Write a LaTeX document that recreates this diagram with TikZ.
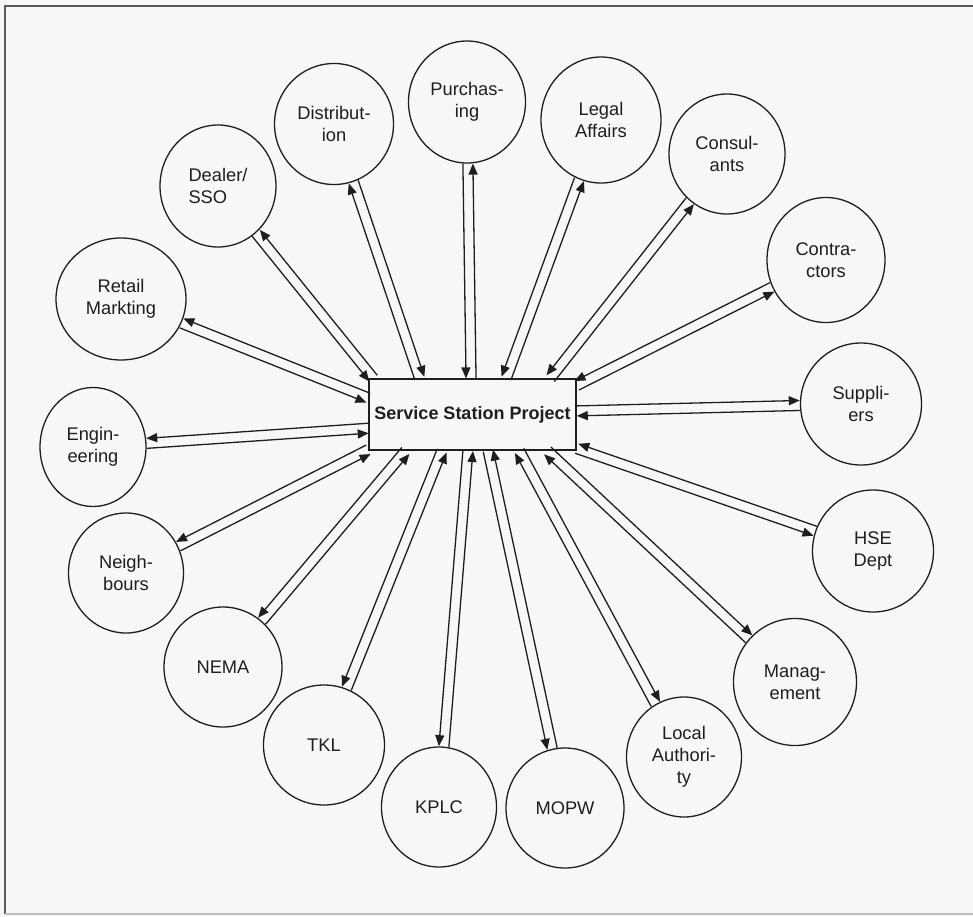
\documentclass[tikz,border=0pt]{standalone}
\usepackage{fontspec}
\setmainfont{Liberation Sans}
\usetikzlibrary{shapes.geometric,arrows.meta,calc}
\definecolor{paper}{RGB}{247,247,247}
\definecolor{ink}{RGB}{30,30,30}
\newcommand\gap{5pt}
% #1 circle, #2 point on hub, #3/#4 side angles (90/-90 default, -90/90 swapped)
\newcommand\linkpair[4]{%
  \path (#1) -- (#2) coordinate[pos=0] (cA) coordinate[pos=1] (cB);
  \draw[arr] ($(cB)!\gap!#4:(cA)$) -- ($(cA)!\gap!#3:(cB)$);
  \draw[arr] ($(cA)!\gap!#4:(cB)$) -- ($(cB)!\gap!#3:(cA)$);
}
\begin{document}
\begin{tikzpicture}[x=1pt,y=-1pt,
  stake/.style={ellipse,draw=ink,line width=1.3pt,inner sep=0pt,align=center,
    font=\fontsize{18.3}{22}\selectfont,text=ink},
  hub/.style={rectangle,draw=ink,line width=1.3pt,minimum width=207pt,
    minimum height=71pt,inner sep=0pt,font=\fontsize{18}{22}\selectfont\bfseries,text=ink},
  arr/.style={draw=ink,line width=1.3pt,-{Triangle[length=11pt,width=9pt]}}]

\useasboundingbox (0,0) rectangle (973,916);
\fill[paper] (0,0) rectangle (973,916);
\draw[black!65,line width=2pt] (973,6) -- (5,6) -- (5,914);
\draw[black!25,line width=1.5pt] (5,914) -- (973,914);

\node[hub] (ssp) at (472.5,414.5) {Service Station Project};

\node[stake,align=left,minimum width=116pt,minimum height=122pt] (dealer) at (218,186) {Dealer/\\SSO};
\node[stake,minimum width=119pt,minimum height=121pt] (distrib) at (334,124) {Distribut-\\ion};
\node[stake,minimum width=117pt,minimum height=122pt] (purch) at (467,102) {Purchas-\\ing};
\node[stake,minimum width=120pt,minimum height=126pt] (legal) at (601,120) {Legal\\Affairs};
\node[stake,minimum width=116pt,minimum height=120pt] (consult) at (727,154) {Consul-\\ants};
\node[stake,minimum width=118pt,minimum height=125pt] (contract) at (826,260) {Contra-\\ctors};
\node[stake,minimum width=121pt,minimum height=122pt] (suppl) at (861,404) {Suppli-\\ers};
\node[stake,minimum width=121pt,minimum height=122pt] (hse) at (873,551) {HSE\\Dept};
\node[stake,minimum width=123pt,minimum height=127pt] (manag) at (795,682) {Manag-\\ement};
\node[stake,minimum width=115pt,minimum height=120pt] (local) at (684,757) {Local\\Authori-\\ty};
\node[stake,minimum width=118pt,minimum height=120pt] (mopw) at (565,808) {MOPW};
\node[stake,minimum width=115pt,minimum height=120pt] (kplc) at (439,807) {KPLC};
\node[stake,minimum width=121pt,minimum height=120pt] (tkl) at (324,745) {TKL};
\node[stake,minimum width=118pt,minimum height=120pt] (nema) at (223,667) {NEMA};
\node[stake,minimum width=115pt,minimum height=120pt] (neigh) at (126,573) {Neigh-\\bours};
\node[stake,minimum width=106pt,minimum height=119pt] (engin) at (93,447) {Engin-\\eering};
\node[stake,minimum width=130pt,minimum height=122pt] (retail) at (121,299) {Retail\\Markting};

% attachment points on the hub
\coordinate (pDealer)   at ($(ssp.north west)!0.024!(ssp.north east)$);
\coordinate (pDistrib)  at ($(ssp.north west)!0.246!(ssp.north east)$);
\coordinate (pPurch)    at ($(ssp.north west)!0.493!(ssp.north east)$);
\coordinate (pLegal)    at ($(ssp.north west)!0.662!(ssp.north east)$);
\coordinate (pConsult)  at ($(ssp.north west)!0.874!(ssp.north east)$);
\coordinate (pContract) at ($(ssp.north east)!0.10!(ssp.south east)$);
\coordinate (pSuppl)    at ($(ssp.north east)!0.45!(ssp.south east)$);
\coordinate (pHse)      at ($(ssp.north east)!0.97!(ssp.south east)$);
\coordinate (pManag)    at ($(ssp.south west)!0.86!(ssp.south east)$);
\coordinate (pLocal)    at ($(ssp.south west)!0.725!(ssp.south east)$);
\coordinate (pMopw)     at ($(ssp.south west)!0.575!(ssp.south east)$);
\coordinate (pKplc)     at ($(ssp.south west)!0.478!(ssp.south east)$);
\coordinate (pTkl)      at ($(ssp.south west)!0.353!(ssp.south east)$);
\coordinate (pNema)     at ($(ssp.south west)!0.179!(ssp.south east)$);
\coordinate (pNeigh)    at ($(ssp.north west)!0.985!(ssp.south west)$);
\coordinate (pEngin)    at ($(ssp.north west)!0.69!(ssp.south west)$);
\coordinate (pRetail)   at ($(ssp.north west)!0.27!(ssp.south west)$);

\linkpair{dealer}{pDealer}{90}{-90}
\linkpair{distrib}{pDistrib}{-90}{90}
\linkpair{purch}{pPurch}{90}{-90}
\linkpair{legal}{pLegal}{90}{-90}
\linkpair{consult}{pConsult}{90}{-90}
\linkpair{contract}{pContract}{90}{-90}
\linkpair{suppl}{pSuppl}{-90}{90}
\linkpair{hse}{pHse}{90}{-90}
\linkpair{manag}{pManag}{-90}{90}
\linkpair{local}{pLocal}{-90}{90}
\linkpair{mopw}{pMopw}{90}{-90}
\linkpair{kplc}{pKplc}{90}{-90}
\linkpair{tkl}{pTkl}{90}{-90}
\linkpair{nema}{pNema}{90}{-90}
\linkpair{neigh}{pNeigh}{90}{-90}
\linkpair{engin}{pEngin}{90}{-90}
\linkpair{retail}{pRetail}{90}{-90}
\end{tikzpicture}
\end{document}
